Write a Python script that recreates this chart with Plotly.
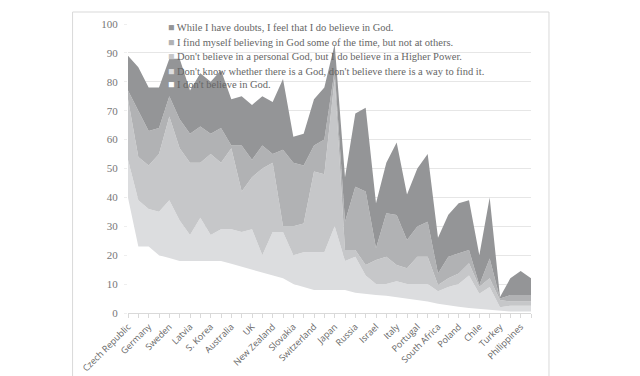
import plotly.graph_objects as go

countries = ["Czech Republic", "France", "Germany", "Netherlands", "Sweden", "Norway", "Latvia", "Denmark",
             "S. Korea", "Belgium", "Australia", "Slovenia", "UK", "Finland", "New Zealand", "Spain",
             "Slovakia", "Hungary", "Switzerland", "Austria", "Japan", "Taiwan", "Russia", "Ukraine",
             "Israel", "Croatia", "Italy", "Northern Ireland", "Portugal", "Ireland", "South Africa", "USA",
             "Poland", "Mexico", "Chile", "Venezuela", "Turkey", "Cyprus", "Philippines", "Dominican Republic"]

dont_believe = [39.9, 23, 23, 20, 19, 18, 18, 18, 18, 18, 17, 16, 15, 14, 13, 12, 10, 9, 8, 8,
                8, 8, 7, 6.5, 6.2, 6, 5.5, 5, 4.7, 4, 3.2, 2.8, 2.2, 1.7, 1.4, 1, 0.6, 0.5, 0.5, 0.5]
dont_know = [13.1, 16, 13, 15, 20, 14, 9, 15, 9, 11, 12, 12, 14, 6, 15, 16, 10, 12, 13, 13,
             22, 10, 12.5, 6.5, 3.8, 4, 5.5, 5, 5.3, 6, 4.3, 6.2, 7.8, 11.3, 5.3, 8, 1.4, 2, 2, 2]
higher_power = [21, 15, 15, 20, 29, 25, 25, 19, 28, 23, 28, 14, 18, 30, 24, 2, 10, 10, 28, 27,
                51, 3.8, 2.3, 3.6, 8.3, 9.5, 5.6, 5.5, 9.5, 9.5, 2.2, 3, 3.7, 4.2, 2.4, 3, 2.5, 1.5, 1.5, 1.5]
some_time = [3, 16, 12, 9, 7, 10, 10, 12.5, 7, 12, 1, 16, 6, 8, 3, 26.5, 22, 20, 9, 12,
             3, 9.8, 21.9, 25.4, 4.1, 15, 17.3, 9.8, 10.4, 12.1, 4, 7.5, 6.9, 4.6, 0.6, 6.9, 0.5, 2.2, 2.2, 2.2]
doubts = [12, 15, 15, 14, 13, 21, 15, 18.5, 18, 20, 16, 17, 19, 17, 18, 24.5, 9, 11, 16, 18,
          9, 15.4, 25.3, 29, 15.6, 17.5, 25.1, 15.7, 20.1, 23.4, 12.3, 14.5, 17.4, 17.2, 10.3, 21.1, 0.5, 5.8, 8.3, 5.8]

series_names = [
    "I don't believe in God.",
    "Don't know whether there is a God, don't believe there is a way to find it.",
    "Don't believe in a personal God, but I do believe in a Higher Power.",
    "I find myself believing in God some of the time, but not at others.",
    "While I have doubts, I feel that I do believe in God.",
]
series_values = [dont_believe, dont_know, higher_power, some_time, doubts]
colors = ["#ffffff", "#dcdddf", "#c6c7c9", "#b1b2b4", "#949597"]

x_idx = list(range(len(countries)))
tick_text = [c if i % 2 == 0 else "" for i, c in enumerate(countries)]

fig = go.Figure()
for name, vals, col in zip(series_names, series_values, colors):
    fig.add_trace(go.Scatter(x=x_idx, y=vals, name=name, stackgroup="one", mode="lines",
                             line=dict(width=0, color=col), fillcolor=col, showlegend=False))

# legend as annotations (top trace first)
legend_y_px = [27.5, 42.5, 57, 71, 84.5]
L, R, T, B = 127.5, 531, 24, 313
for k, (name, col) in enumerate(zip(reversed(series_names), reversed(colors))):
    yp = (B - legend_y_px[k]) / (B - T)
    fig.add_annotation(xref="paper", yref="paper", x=(166 - L) / (R - L), y=yp,
                       xanchor="left", yanchor="middle", showarrow=False,
                       text=f'<span style="color:{col}">■</span> {name}',
                       font=dict(family="Liberation Serif", size=10.5, color="#666666"))

# outer border
fig.add_shape(type="rect", xref="paper", yref="paper",
              x0=(72 - L) / (R - L), x1=(549 - L) / (R - L),
              y0=(B - 378) / (B - T), y1=(B - 12) / (B - T),
              line=dict(color="#d9d9d9", width=1), fillcolor="rgba(0,0,0,0)", layer="below")

fig.update_layout(
    width=640, height=376,
    margin=dict(l=L, r=640 - R, t=T, b=376 - B),
    paper_bgcolor="white", plot_bgcolor="white",
    showlegend=False,
    xaxis=dict(range=[0, len(countries) - 1], tickmode="array", tickvals=x_idx, ticktext=tick_text,
               tickangle=-45, ticks="outside", ticklen=4, tickcolor="#d9d9d9", automargin=False,
               showline=True, linecolor="#d9d9d9", linewidth=1, showgrid=False, zeroline=False,
               tickfont=dict(family="Open Sans", size=9, color="#666666")),
    yaxis=dict(range=[0, 100], tickvals=list(range(0, 101, 10)), showgrid=True, gridcolor="#e6e6e6",
               gridwidth=1, zeroline=False, showline=False, ticks="outside", ticklen=3, tickcolor="#eeeeee",
               automargin=False, ticklabelstandoff=4,
               tickfont=dict(family="Liberation Serif", size=11, color="#777777")),
)
fig.write_html("out.html", config={"displayModeBar": False},
               post_script="document.body.style.margin='0';document.body.style.overflow='hidden';")
